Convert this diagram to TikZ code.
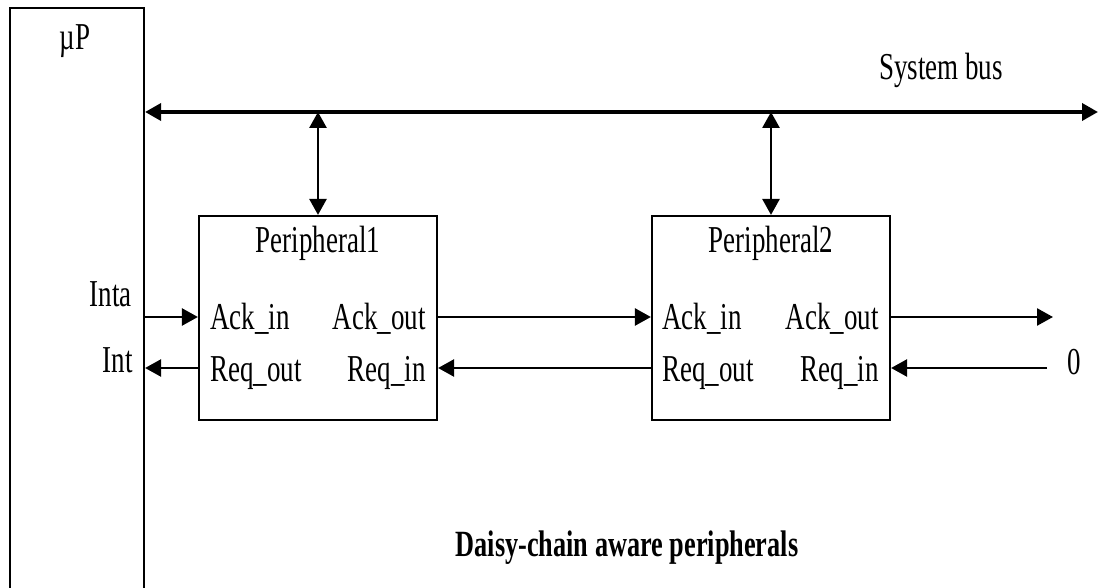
\documentclass[tikz,border=0pt]{standalone}
\usepackage{fontspec}
\setmainfont{Liberation Serif}[FakeStretch=0.71]
\usetikzlibrary{arrows.meta,calc}
\begin{document}
\begin{tikzpicture}[x=0.5pt,y=-0.5pt,
  box/.style={draw, line width=1.1pt, minimum width=119pt, minimum height=102pt, inner sep=0},
  lbl/.style={font=\fontsize{19}{22}\selectfont, inner sep=0},
  sig/.style={line width=1.3pt, -{Triangle[length=8pt,width=8.5pt]}},
  dbl/.style={line width=1.4pt, {Triangle[length=8pt,width=8.5pt]}-{Triangle[length=8pt,width=8.5pt]}}]
\clip (0,0) rectangle (1099,588);
% microprocessor
\node[draw, line width=1.1pt, minimum width=67pt, minimum height=330pt, inner sep=0] (mp) at (77,338) {};
\node[lbl, anchor=base] (mptxt) at (75,50) {µP};
% bus
\coordinate (busL) at (mp.east |- 0,112);
\coordinate (busR) at (1098,112);
\draw[dbl, line width=1.8pt] (busL) -- (busR);
\node[lbl, anchor=base] (bustxt) at (941,80) {System bus};
% peripherals
\node[box] (p1) at (318,318) {};
\node[box] (p2) at (771,318) {};
\node[lbl, anchor=base] (p1t) at (318,253) {Peripheral1};
\node[lbl, anchor=base] (p2t) at (771,253) {Peripheral2};
\node[lbl, anchor=base west] (p1ai) at (210,330) {Ack\_in};
\node[lbl, anchor=base east] (p1ao) at (426,330) {Ack\_out};
\node[lbl, anchor=base west] (p1ro) at (210,382) {Req\_out};
\node[lbl, anchor=base east] (p1ri) at (426,382) {Req\_in};
\node[lbl, anchor=base west] (p2ai) at (662,330) {Ack\_in};
\node[lbl, anchor=base east] (p2ao) at (879,330) {Ack\_out};
\node[lbl, anchor=base west] (p2ro) at (662,382) {Req\_out};
\node[lbl, anchor=base east] (p2ri) at (879,382) {Req\_in};
% bus taps
\coordinate (t1) at (p1.north |- busL);
\coordinate (t2) at (p2.north |- busL);
\draw[dbl] (t1) -- (p1.north);
\draw[dbl] (t2) -- (p2.north);
% signal rows
\coordinate (ackrow) at (0,317);
\coordinate (reqrow) at (0,368);
\draw[sig] (mp.east |- ackrow) -- (p1.west |- ackrow);
\draw[sig] (p1.west |- reqrow) -- (mp.east |- reqrow);
\draw[sig] (p1.east |- ackrow) -- (p2.west |- ackrow);
\draw[sig] (p2.west |- reqrow) -- (p1.east |- reqrow);
\coordinate (outend) at (1053,317);
\coordinate (zeroend) at (1047,368);
\draw[sig] (p2.east |- ackrow) -- (outend);
\draw[sig] (zeroend) -- (p2.east |- reqrow);
\node[lbl, anchor=base] (zero) at (1074,375) {0};
\node[lbl, anchor=base east] (inta) at (132,307) {Inta};
\node[lbl, anchor=base east] (int) at (133,373) {Int};
% caption
\node[font=\bfseries\fontsize{18.5}{22}\selectfont, inner sep=0, anchor=base] (cap) at (627,557) {Daisy-chain aware peripherals};
\end{tikzpicture}
\end{document}
